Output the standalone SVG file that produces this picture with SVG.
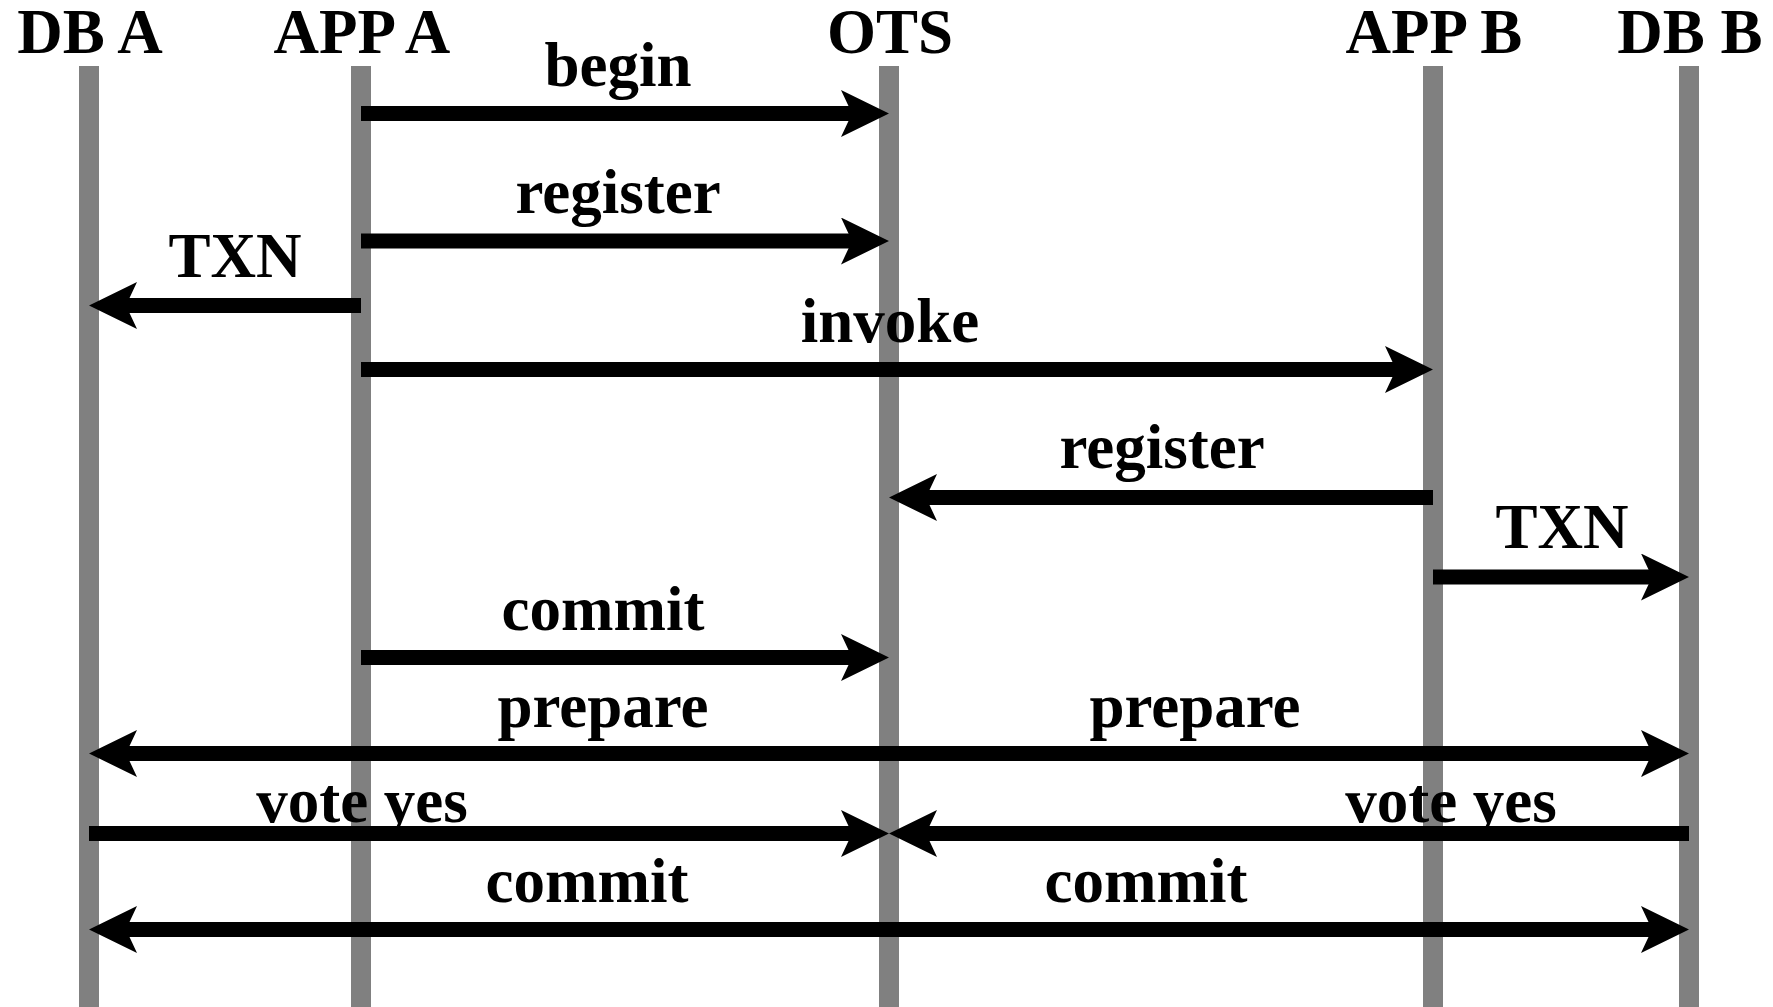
<svg xmlns="http://www.w3.org/2000/svg" width="1773" height="1007" viewBox="0 0 1773 1007">
<style>
.life{fill:#808080}
.hdr,.lbl{font-family:"Liberation Serif","Times New Roman",serif;font-weight:bold;font-size:63px;fill:#000;text-anchor:middle}
.msg{stroke:#000;stroke-width:15;fill:none;marker-end:url(#ah)}
</style>
<defs>
<marker id="ah" markerUnits="userSpaceOnUse" viewBox="0 0 48 47" markerWidth="48" markerHeight="47" refX="18" refY="23.5" orient="auto">
<path d="M48,23.5 L0,0 L11,23.5 L0,47 Z" fill="#000"/>
</marker>
</defs>
<rect width="1773" height="1007" fill="#fff"/>
<g id="dba"><rect class="life" x="79" y="66" width="20" height="941"/><text class="hdr" x="90" y="53">DB A</text></g>
<g id="appa"><rect class="life" x="351" y="66" width="20" height="941"/><text class="hdr" x="362" y="53">APP A</text></g>
<g id="ots"><rect class="life" x="879" y="66" width="20" height="941"/><text class="hdr" x="890" y="53">OTS</text></g>
<g id="appb"><rect class="life" x="1423" y="66" width="20" height="941"/><text class="hdr" x="1434" y="53">APP B</text></g>
<g id="dbb"><rect class="life" x="1679" y="66" width="20" height="941"/><text class="hdr" x="1690" y="53">DB B</text></g>
<g id="connectors">
<line class="msg" x1="361" y1="113.5" x2="859" y2="113.5"/>
<line class="msg" x1="361" y1="241" x2="859" y2="241"/>
<line class="msg" x1="361" y1="305.5" x2="119" y2="305.5"/>
<line class="msg" x1="361" y1="369.5" x2="1403" y2="369.5"/>
<line class="msg" x1="1433" y1="497.5" x2="919" y2="497.5"/>
<line class="msg" x1="1433" y1="577" x2="1659" y2="577"/>
<line class="msg" x1="361" y1="657.5" x2="859" y2="657.5"/>
<line class="msg" x1="889" y1="753.5" x2="119" y2="753.5"/>
<line class="msg" x1="889" y1="753.5" x2="1659" y2="753.5"/>
<line class="msg" x1="89" y1="833.5" x2="859" y2="833.5"/>
<line class="msg" x1="1689" y1="833.5" x2="919" y2="833.5"/>
<line class="msg" x1="889" y1="929.5" x2="119" y2="929.5"/>
<line class="msg" x1="889" y1="929.5" x2="1659" y2="929.5"/>
<text class="lbl" x="618" y="86">begin</text>
<text class="lbl" x="618" y="213">register</text>
<text class="lbl" x="235" y="277">TXN</text>
<text class="lbl" x="890" y="342">invoke</text>
<text class="lbl" x="1162" y="468">register</text>
<text class="lbl" x="1562" y="548">TXN</text>
<text class="lbl" x="603" y="630">commit</text>
<text class="lbl" x="603" y="727">prepare</text>
<text class="lbl" x="1195" y="727">prepare</text>
<text class="lbl" x="362" y="822">vote yes</text>
<text class="lbl" x="1451" y="822">vote yes</text>
<text class="lbl" x="587" y="902">commit</text>
<text class="lbl" x="1146" y="902">commit</text>
</g>
</svg>
